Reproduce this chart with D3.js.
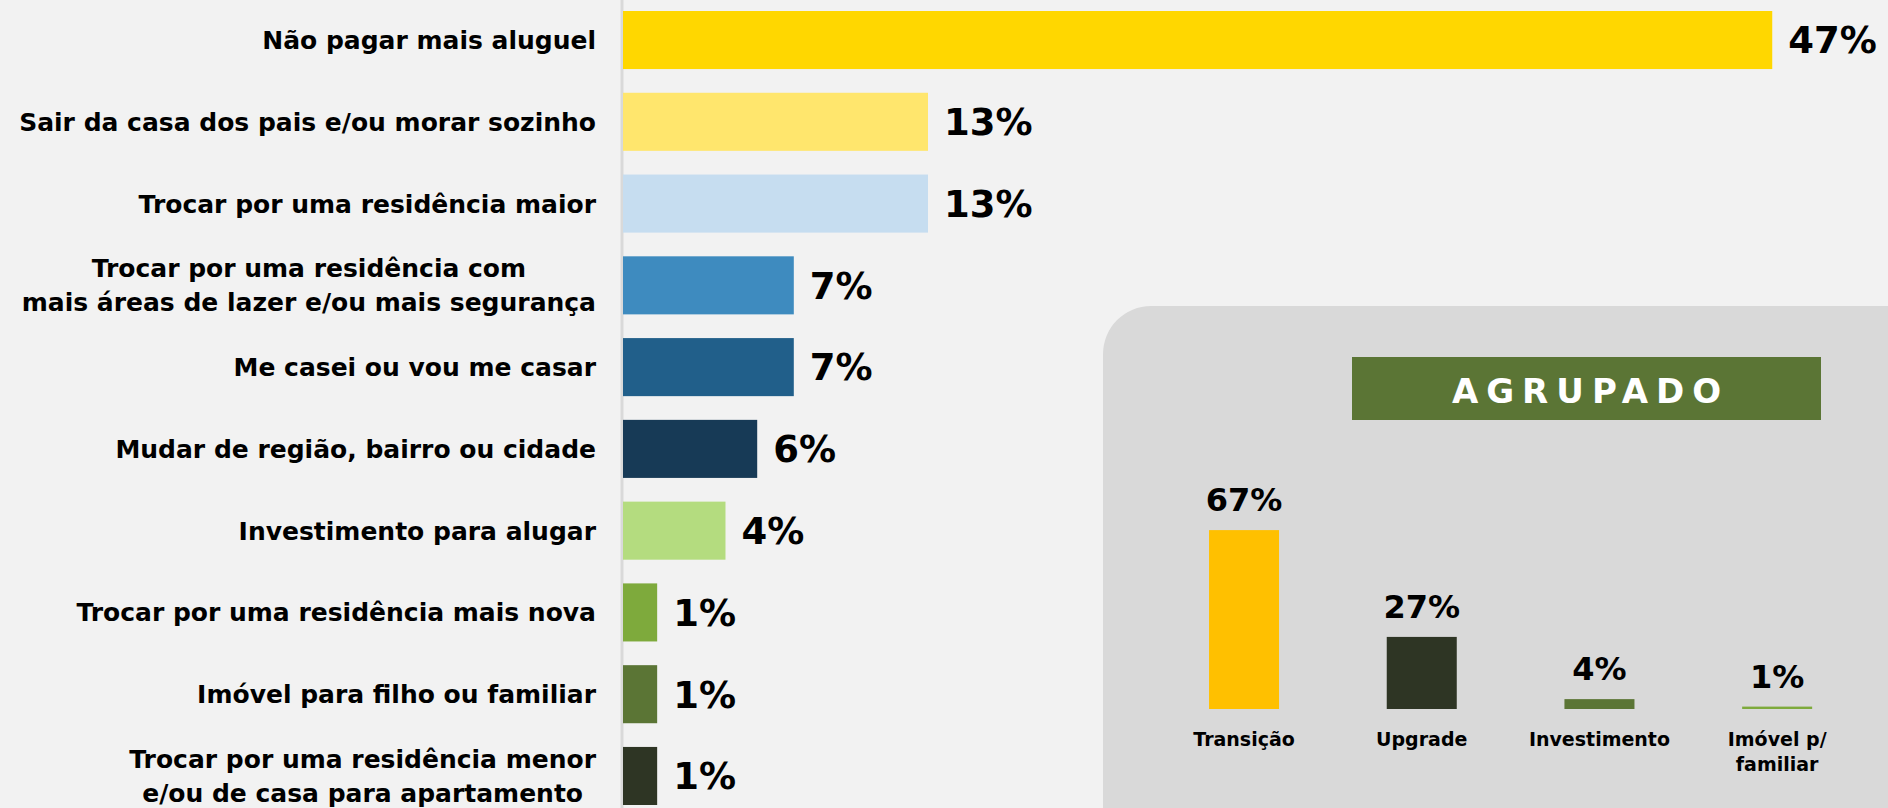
<!DOCTYPE html>
<html>
<head>
<meta charset="utf-8">
<script src="https://cdn.jsdelivr.net/npm/d3@7"></script>
<style>
  body { margin: 0; background: #f2f2f2; }
  svg { display: block; font-family: "DejaVu Sans", sans-serif; font-weight: bold; }
</style>
</head>
<body>
<svg id="chart" width="1888" height="808"></svg>
<script>
// main chart data
const categories = [
  "Não pagar mais aluguel",
  "Sair da casa dos pais e/ou morar sozinho",
  "Trocar por uma residência maior",
  "Trocar por uma residência com\nmais áreas de lazer e/ou mais segurança",
  "Me casei ou vou me casar",
  "Mudar de região, bairro ou cidade",
  "Investimento para alugar",
  "Trocar por uma residência mais nova",
  "Imóvel para filho ou familiar",
  "Trocar por uma residência menor\ne/ou de casa para apartamento"
];
const values = [47.1, 12.5, 12.5, 7.0, 7.0, 5.5, 4.2, 1.4, 1.4, 1.4];
const barColors = ["#ffd700", "#ffe66d", "#c6ddf0", "#3e8bbf", "#215f8a",
                   "#173a56", "#b4dc7f", "#7eaa3c", "#5b7535", "#2e3524"];

// grouped (AGRUPADO) data
const groupCats = ["Transição", "Upgrade", "Investimento", "Imóvel p/\nfamiliar"];
const groupValues = [67, 27, 3.7, 0.9];
const groupColors = ["#ffc000", "#2e3524", "#5b7535", "#7eaa3c"];

const pct = v => Math.round(v) + "%";

const svg = d3.select("#chart");

// ---------- left horizontal bars ----------
const axisX = 622;
const labelRight = 596;

const y = d3.scaleBand()
  .domain(categories)
  .range([11, 805])
  .paddingInner(0.29)
  .paddingOuter(0);

const x = d3.scaleLinear()
  .domain([0, 50])
  .range([axisX + 1, axisX + 1 + 1220]);

svg.append("line")
  .attr("x1", axisX).attr("x2", axisX)
  .attr("y1", 0).attr("y2", 808)
  .attr("stroke", "#d9d9d9")
  .attr("stroke-width", 3);

const main = svg.append("g");

main.selectAll("rect")
  .data(categories)
  .join("rect")
  .attr("x", x(0))
  .attr("y", d => y(d))
  .attr("width", (d, i) => x(values[i]) - x(0))
  .attr("height", y.bandwidth())
  .attr("fill", (d, i) => barColors[i]);

main.selectAll("text.val")
  .data(categories)
  .join("text")
  .attr("class", "val")
  .attr("x", (d, i) => x(values[i]) + 16)
  .attr("y", d => y(d) + y.bandwidth() / 2)
  .attr("dy", "0.36em")
  .attr("font-size", 37)
  .attr("fill", "#000")
  .text((d, i) => pct(values[i]));

main.selectAll("text.cat")
  .data(categories)
  .join("text")
  .attr("class", "cat")
  .attr("font-size", 25)
  .attr("fill", "#000")
  .each(function(d) {
    const lines = d.split("\n");
    const t = d3.select(this);
    const cy = y(d) + y.bandwidth() / 2;
    if (lines.length === 1) {
      t.attr("text-anchor", "end")
        .attr("x", labelRight)
        .attr("y", cy)
        .attr("dy", "0.36em")
        .text(d);
      return;
    }
    t.attr("text-anchor", "middle");
    const spans = lines.map((ln, k) => t.append("tspan")
      .attr("x", 0)
      .attr("y", cy + (k - (lines.length - 1) / 2) * 34)
      .attr("dy", "0.36em")
      .text(ln));
    const maxW = d3.max(spans, s => s.node().getComputedTextLength());
    spans.forEach(s => s.attr("x", labelRight - maxW / 2));
  });

// ---------- grouped panel ----------
const panel = svg.append("g");

panel.append("rect")
  .attr("x", 1103).attr("y", 306)
  .attr("width", 900).attr("height", 600)
  .attr("rx", 48).attr("ry", 48)
  .attr("fill", "#d9d9d9");

panel.append("rect")
  .attr("x", 1352).attr("y", 357)
  .attr("width", 469).attr("height", 63)
  .attr("fill", "#5b7535");

const spacing = 8;
panel.append("text")
  .attr("x", 1586.5 + spacing / 2)
  .attr("y", 403)
  .attr("text-anchor", "middle")
  .attr("font-size", 34)
  .attr("letter-spacing", spacing)
  .attr("fill", "#fff")
  .text("AGRUPADO");

const gx = d3.scaleBand()
  .domain(groupCats)
  .range([1155.2, 1866])
  .paddingInner(0.606)
  .paddingOuter(0.303);

const baseY = 709;
const gy = d3.scaleLinear()
  .domain([0, 100])
  .range([baseY, baseY - 267]);

panel.selectAll("rect.gbar")
  .data(groupCats)
  .join("rect")
  .attr("class", "gbar")
  .attr("x", d => gx(d))
  .attr("y", (d, i) => gy(groupValues[i]))
  .attr("width", gx.bandwidth())
  .attr("height", (d, i) => baseY - gy(groupValues[i]))
  .attr("fill", (d, i) => groupColors[i]);

panel.selectAll("text.gval")
  .data(groupCats)
  .join("text")
  .attr("class", "gval")
  .attr("x", d => gx(d) + gx.bandwidth() / 2)
  .attr("y", (d, i) => gy(groupValues[i]) - 19)
  .attr("text-anchor", "middle")
  .attr("font-size", 32)
  .attr("fill", "#000")
  .text((d, i) => pct(groupValues[i]));

panel.selectAll("text.gcat")
  .data(groupCats)
  .join("text")
  .attr("class", "gcat")
  .attr("text-anchor", "middle")
  .attr("font-size", 19)
  .attr("fill", "#000")
  .each(function(d) {
    const t = d3.select(this);
    const cx = gx(d) + gx.bandwidth() / 2;
    d.split("\n").forEach((ln, k) => {
      t.append("tspan")
        .attr("x", cx)
        .attr("y", 746 + k * 25)
        .text(ln);
    });
  });
</script>
</body>
</html>
